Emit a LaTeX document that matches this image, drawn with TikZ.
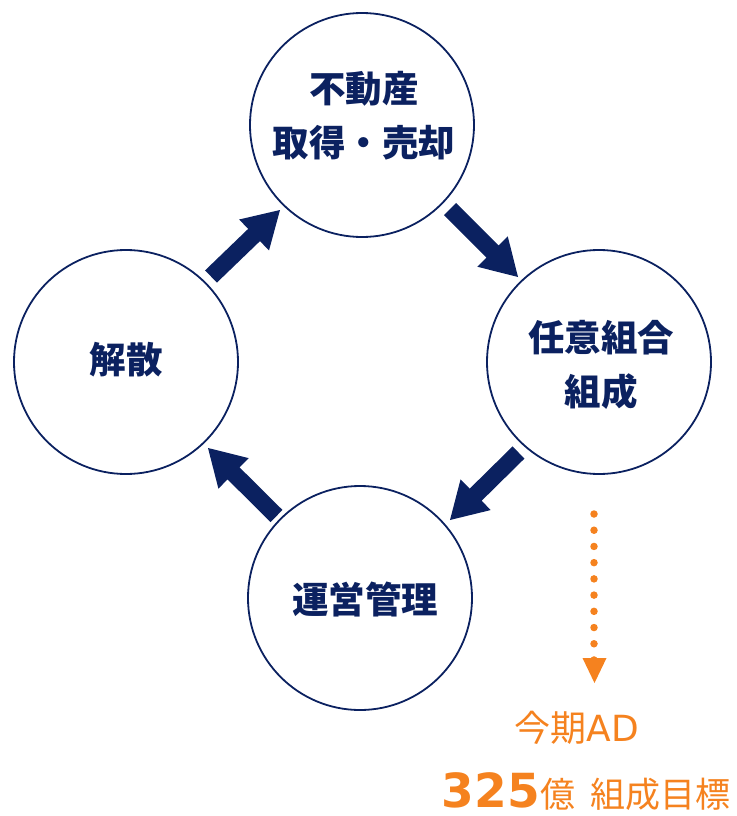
\documentclass[tikz,border=0pt]{standalone}
\usepackage{fontspec}
\usetikzlibrary{calc}
\newfontfamily\jp{Noto Sans CJK JP}
\newfontfamily\dv{DejaVu Sans}
\definecolor{navy}{HTML}{0B2160}
\definecolor{orng}{HTML}{F5821F}
\newcommand\blockarrow[2]{%
  \coordinate (#1h) at ($(#2)!36pt!(#1)$);
  \fill[navy] ($(#1)!8.5pt!90:(#2)$) -- ($(#1h)!8.5pt!90:(#2)$) -- ($(#1h)!21.5pt!90:(#2)$)
    -- (#2) -- ($(#1h)!21.5pt!-90:(#2)$) -- ($(#1h)!8.5pt!-90:(#2)$) -- ($(#1)!8.5pt!-90:(#2)$) -- cycle;}
\tikzset{
  circ/.style={circle, draw=navy, line width=1.8pt, minimum size=224pt, inner sep=0pt},
  lbl/.style={text=navy, align=center, inner sep=0pt, font=\jp\bfseries\fontsize{36.5}{54}\selectfont},
  dots/.style={draw=orng, line width=7.5pt, line cap=round, dash pattern=on 0pt off 16.22pt},
}
\begin{document}
\begin{tikzpicture}[x=1pt, y=-1pt]
\useasboundingbox (0,0) rectangle (736,816);
% circles
\node[circ] (c1) at (362,125) {};
\node[circ] (c2) at (599,362) {};
\node[circ] (c3) at (360,598) {};
\node[circ] (c4) at (126,362) {};
% labels
\node[lbl] (t1) at (364,116) {不動産\\取得・売却};
\node[lbl] (t2) at (601,365) {任意組合\\組成};
\node[lbl] (t3) at (365,599) {運営管理};
\node[lbl] (t4) at (126,360) {解散};
% block arrows
\coordinate (a1) at (211,276.5); \coordinate (b1) at (280,210);
\coordinate (a2) at (450,209);   \coordinate (b2) at (518,277);
\coordinate (a3) at (518.5,452.5); \coordinate (b3) at (450,520);
\coordinate (a4) at (276.5,516); \coordinate (b4) at (208,448);
\blockarrow{a1}{b1}
\blockarrow{a2}{b2}
\blockarrow{a3}{b3}
\blockarrow{a4}{b4}
% dotted arrow
\coordinate (d1) at (594,514);
\coordinate (d2) at (594,660);
\draw[dots] (d1) -- (d2);
\coordinate (dt) at (594.5,683);
\fill[orng] (582.5,658) -- (606.5,658) -- (dt) -- cycle;
% orange texts
\node[anchor=base, text=orng, inner sep=0pt] (ad) at (577,741)
  {{\jp\fontsize{36}{36}\selectfont 今期}{\dv\fontsize{36}{36}\selectfont AD}};
\node[anchor=base east, text=orng, inner sep=0pt, text depth=0pt] (goal) at (731,807)
  {{\dv\bfseries\fontsize{47}{47}\selectfont 325}{\jp\fontsize{35}{35}\selectfont 億\hspace{0.45em}組成目標}};
\end{tikzpicture}
\end{document}
